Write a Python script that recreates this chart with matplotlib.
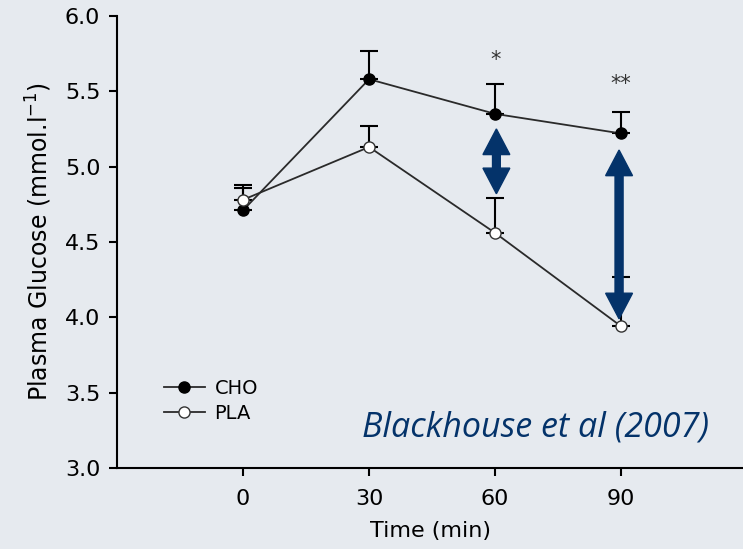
import matplotlib.pyplot as plt
from matplotlib.patches import FancyArrow

# data
time = [0, 30, 60, 90]
cho = [4.71, 5.58, 5.35, 5.22]
cho_err = [0.15, 0.19, 0.20, 0.14]
pla = [4.78, 5.13, 4.56, 3.94]
pla_err = [0.10, 0.14, 0.23, 0.33]
stars = ['*', '**']
star_x = [60, 90]
star_y = [5.71, 5.55]
arrow_x = [60.3, 89.5]
arrow_lo = [4.82, 3.99]
arrow_hi = [5.25, 5.11]

bg = '#e6eaef'
navy = '#04336a'
head_len = 0.17

fig = plt.figure(figsize=(7.43, 5.49), dpi=100, facecolor=bg)
ax = fig.add_axes([0.1575, 0.1475, 0.8425, 0.8235], facecolor=bg)

ax.errorbar(time, cho, yerr=[[0] * 4, cho_err], fmt='none', ecolor='black',
            elinewidth=1.5, capsize=6.5, capthick=1.5, zorder=2)
ax.errorbar(time, pla, yerr=[[0] * 4, pla_err], fmt='none', ecolor='black',
            elinewidth=1.5, capsize=6.5, capthick=1.5, zorder=2)
ax.plot(time, cho, '-o', color='#2a2a2a', lw=1.3, mfc='black', mec='black',
        ms=8, label='CHO', zorder=3)
ax.plot(time, pla, '-o', color='#2a2a2a', lw=1.3, mfc='white', mec='#333333',
        ms=8, label='PLA', zorder=3)

# double headed arrows: two arrows pointing opposite ways, each tail starting
# inside the other one's head so no seam shows
for x, lo, hi in zip(arrow_x, arrow_lo, arrow_hi):
    for start, end in ((lo + head_len * 0.6, hi), (hi - head_len * 0.6, lo)):
        ax.add_patch(FancyArrow(x, start, 0, end - start, width=1.8,
                                head_width=6.4, head_length=head_len,
                                length_includes_head=True, facecolor=navy,
                                edgecolor=navy, lw=1.0, joinstyle='miter',
                                zorder=4))

for s, x, y in zip(stars, star_x, star_y):
    ax.text(x, y, s, ha='center', va='center', fontsize=15, color='#333333')

ax.set_xlim(-30, 119)
ax.set_ylim(3.0, 6.0)
ax.set_xticks(time)
ax.set_yticks([3.0, 3.5, 4.0, 4.5, 5.0, 5.5, 6.0])
ax.set_yticklabels(['3.0', '3.5', '4.0', '4.5', '5.0', '5.5', '6.0'])
for side in ['top', 'right']:
    ax.spines[side].set_visible(False)
for side in ['left', 'bottom']:
    ax.spines[side].set_linewidth(1.5)
ax.tick_params(direction='out', length=6, width=1.5, labelsize=16)
ax.tick_params(axis='y', pad=6)
ax.tick_params(axis='x', pad=9)

ax.set_xlabel('Time (min)', fontsize=16, labelpad=9)
ax.set_ylabel('Plasma Glucose (mmol.l$^{-1}$)', fontsize=17, labelpad=8)

ax.legend(loc='center left', bbox_to_anchor=(0.075, 0.148), frameon=False,
          prop={'size': 14}, handlelength=2.1, handletextpad=0.5,
          labelspacing=0.3, borderaxespad=0, borderpad=0)

ax.text(0.945, 0.07, 'Blackhouse et al (2007)', transform=ax.transAxes,
        ha='right', va='baseline', fontsize=24.5, style='italic', color=navy,
        family='Open Sans')

fig.savefig('out.png', dpi=100, facecolor=bg)
